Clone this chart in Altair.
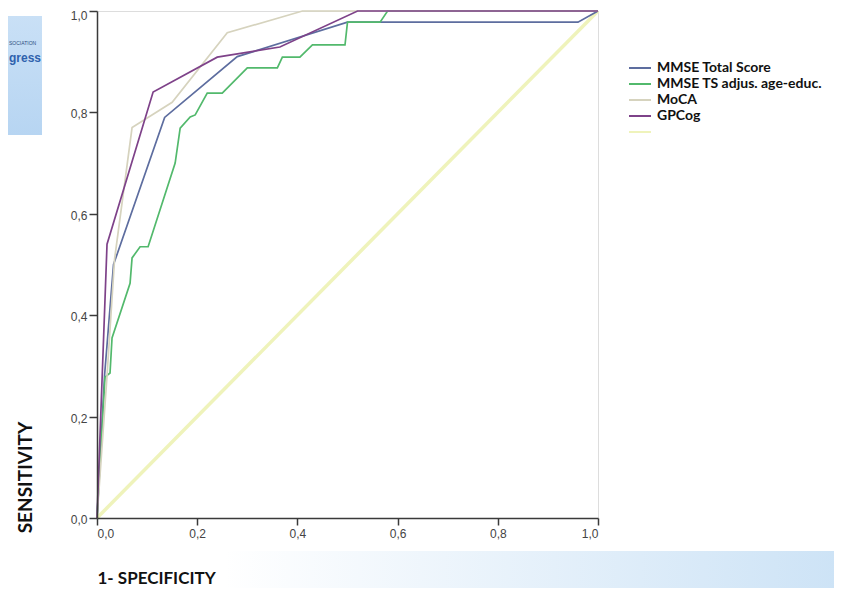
import altair as alt
import pandas as pd

# ---------------- data ----------------
series_names = ["MMSE Total Score", "MMSE TS adjus. age-educ.", "MoCA", "GPCog", ""]
series_colors = ["#5d6d9f", "#52b96c", "#d6d3be", "#7e4289", "#eff3bb"]

mmse_x = [0.0, 0.015, 0.033, 0.135, 0.28, 0.50, 0.96, 1.0]
mmse_y = [0.0, 0.28, 0.50, 0.79, 0.91, 0.978, 0.978, 1.0]

adj_x = [0.0, 0.016, 0.026, 0.03, 0.066, 0.07, 0.086, 0.102, 0.156, 0.166, 0.186, 0.196,
         0.22, 0.25, 0.30, 0.36, 0.37, 0.405, 0.43, 0.495, 0.50, 0.565, 0.58, 1.0]
adj_y = [0.0, 0.278, 0.286, 0.355, 0.463, 0.513, 0.535, 0.535, 0.70, 0.769, 0.791, 0.795,
         0.838, 0.838, 0.888, 0.888, 0.909, 0.909, 0.933, 0.933, 0.978, 0.978, 1.0, 1.0]

moca_x = [0.0, 0.02, 0.035, 0.07, 0.15, 0.26, 0.41, 1.0]
moca_y = [0.0, 0.28, 0.51, 0.77, 0.82, 0.957, 1.0, 1.0]

gpcog_x = [0.0, 0.02, 0.112, 0.24, 0.365, 0.52, 1.0]
gpcog_y = [0.0, 0.54, 0.84, 0.909, 0.929, 1.0, 1.0]

ref_x = [0.0, 1.0]
ref_y = [0.0, 1.0]

tick_values = [0.0, 0.2, 0.4, 0.6, 0.8, 1.0]

rows = []
for name, xs, ys in zip(series_names,
                        [mmse_x, adj_x, moca_x, gpcog_x, ref_x],
                        [mmse_y, adj_y, moca_y, gpcog_y, ref_y]):
    for i, (a, b) in enumerate(zip(xs, ys)):
        rows.append({"series": name, "fpr": a, "tpr": b, "i": i})
df = pd.DataFrame(rows)
curves = df[df["series"] != ""]
diag = df[df["series"] == ""]

label_expr = "replace(format(datum.value, '.1f'), '.', ',')"

x_enc = alt.X(
    "fpr:Q",
    scale=alt.Scale(domain=[0, 1], nice=False),
    axis=alt.Axis(
        values=tick_values, labelExpr=label_expr, grid=False,
        title="1- SPECIFICITY", titleX=0, titleY=65, titleAlign="left",
        titleBaseline="alphabetic", titleFont="Lato", titleFontSize=17,
        titleFontWeight="bold", titleColor="#111111",
        tickSize=7, tickWidth=1.5, tickColor="#3a3a3a",
        domainColor="#3a3a3a", domainWidth=1.5,
        labelFont="Liberation Sans", labelFontSize=12, labelColor="#444444",
        labelPadding=3, labelOverlap=False, zindex=1,
    ),
)
y_enc = alt.Y(
    "tpr:Q",
    scale=alt.Scale(domain=[0, 1], nice=False),
    axis=alt.Axis(
        values=tick_values, labelExpr=label_expr, grid=False,
        title="SENSITIVITY", titleAngle=270, titleX=-72, titleY=466,
        titleAlign="center", titleBaseline="middle", titleFont="Lato",
        titleFontSize=19, titleFontWeight="bold", titleColor="#111111",
        tickSize=8, tickWidth=1.5, tickColor="#3a3a3a",
        domainColor="#3a3a3a", domainWidth=1.5,
        labelFont="Liberation Sans", labelFontSize=12, labelColor="#444444",
        labelPadding=2, labelOverlap=False, zindex=1,
        labelOffset={"condition": {"test": "datum.value >= 1", "value": 4}, "value": 1.5},
    ),
)

legend = alt.Legend(
    title=None, orient="none", legendX=531, legendY=50,
    symbolType="stroke", symbolSize=484, symbolStrokeWidth=2,
    labelFont="Lato", labelFontWeight="bold", labelFontSize=14, labelLimit=400,
    labelColor="#111111", clipHeight=14, rowPadding=2, labelOffset=5,
)
color_enc = alt.Color("series:N",
                      scale=alt.Scale(domain=series_names, range=series_colors),
                      legend=legend)

one = pd.DataFrame({"k": [0]})

band = alt.Chart(one).mark_rect(
    color=alt.Gradient(
        gradient="linear",
        stops=[alt.GradientStop(color="#ffffff", offset=0),
               alt.GradientStop(color="#cde3f6", offset=1)],
        x1=0, x2=1, y1=0, y2=0,
    )
).encode(x=alt.value(128), x2=alt.value(740), y=alt.value(540), y2=alt.value(590))

logo = alt.Chart(one).mark_rect(
    color=alt.Gradient(
        gradient="linear",
        stops=[alt.GradientStop(color="#c9e0f6", offset=0),
               alt.GradientStop(color="#b7d5f2", offset=1)],
        x1=0, x2=0, y1=0, y2=1,
    )
).encode(x=alt.value(-89), x2=alt.value(-55), y=alt.value(5), y2=alt.value(124))

logo_small = alt.Chart(one).mark_text(
    text="SOCIATION", align="left", baseline="alphabetic",
    font="Liberation Sans", fontSize=5, color="#2c4f80",
).encode(x=alt.value(-88), y=alt.value(34))

logo_big = alt.Chart(one).mark_text(
    text="gress", align="left", baseline="alphabetic",
    font="Liberation Sans", fontSize=12, fontWeight="bold", color="#2f62ad",
).encode(x=alt.value(-88), y=alt.value(51))

diag_line = alt.Chart(diag).mark_line(strokeWidth=3.5).encode(
    x=x_enc, y=y_enc, color=color_enc, order="i:Q"
)
curve_lines = alt.Chart(curves).mark_line(strokeWidth=1.7).encode(
    x=x_enc, y=y_enc, color=color_enc, order="i:Q"
)

chart = alt.layer(band, logo, logo_small, logo_big, diag_line, curve_lines).properties(
    width=501, height=507,
    autosize=alt.AutoSizeParams(type="none"),
    padding={"left": 89, "top": 3, "right": 236, "bottom": 70},
).configure_view(
    fill="#f0f0f0", stroke="#3a3a3a", strokeWidth=1.5
).configure(background="#ffffff")

chart.save("out.html", embed_options={"renderer": "svg", "actions": False})
